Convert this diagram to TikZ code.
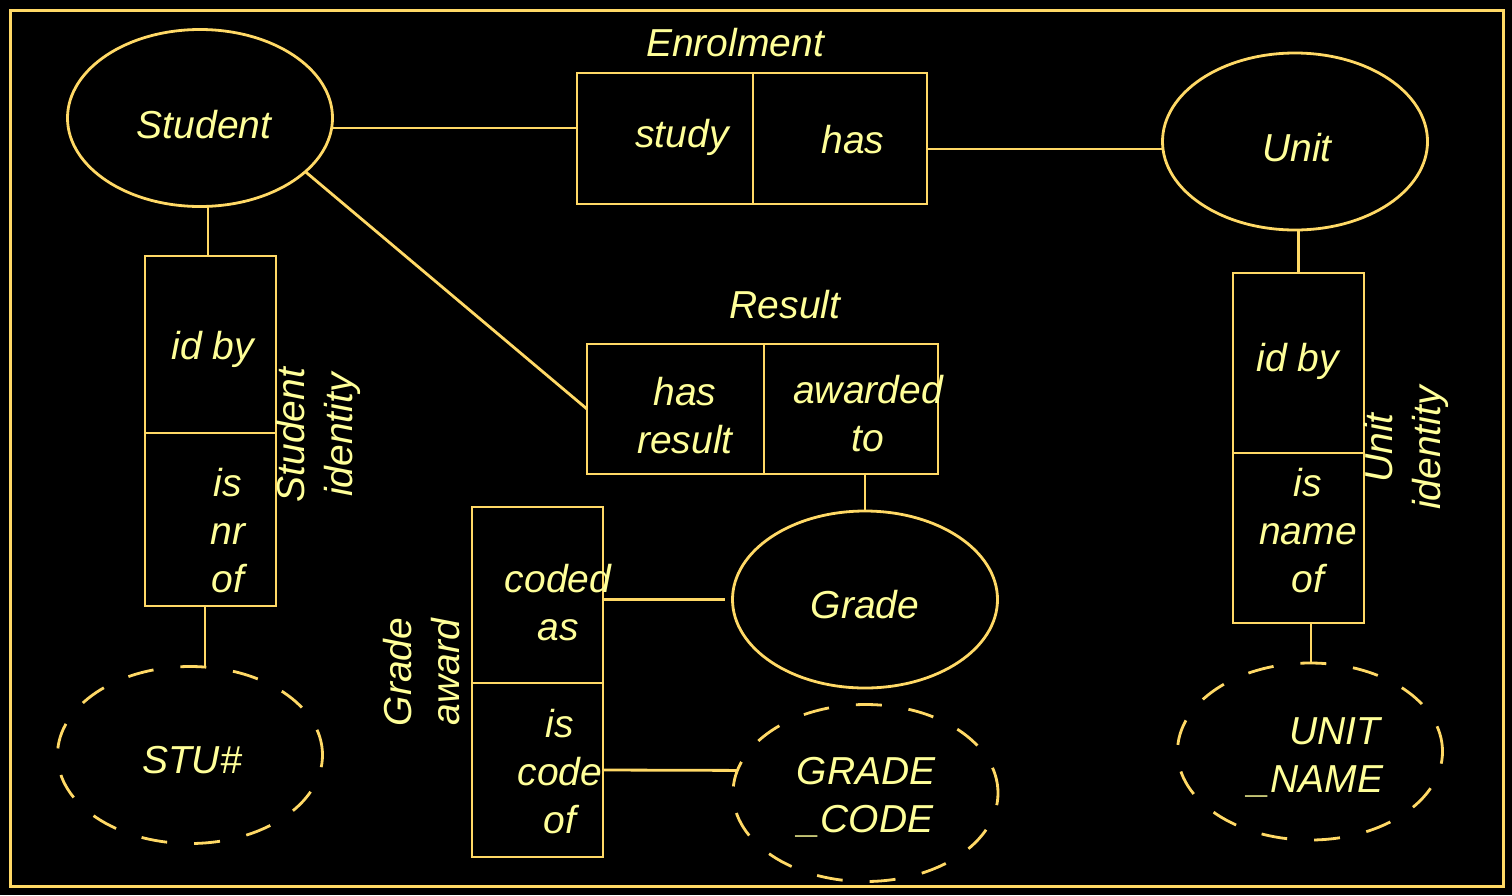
\documentclass[tikz,border=0pt]{standalone}
\usepackage{fontspec}
\setmainfont{Liberation Sans}
\usetikzlibrary{shapes.geometric}
\definecolor{erline}{HTML}{FFD966}
\definecolor{ertext}{HTML}{FFFF99}
\begin{document}
\begin{tikzpicture}[x=1pt,y=-1pt,
  every node/.style={inner sep=0pt, outer sep=0pt},
  ent/.style={ellipse, draw=erline, line width=2.8pt, minimum width=265pt, minimum height=177pt},
  keyent/.style={ent, dash pattern=on 26pt off 27pt},
  cell/.style={rectangle, draw=erline, line width=2.8pt},
  lbl/.style={text=ertext, font=\fontsize{39}{48}\selectfont\itshape, align=center},
  conn/.style={draw=erline, line width=2.8pt}]

% page and frame
\fill[black] (0,0) rectangle (1512,895);
\useasboundingbox (0,0) rectangle (1512,895);
\draw[erline, line width=3pt] (10,10) rectangle (1503,886);

% entities
\node[ent] (student) at (200,118) {};
\node[ent] (unit) at (1295,141.5) {};
\node[ent] (grade) at (865,599.5) {};
\node[keyent] (stu) at (190,755) {};
\node[keyent] (gcode) at (865.5,793) {};
\node[keyent] (uname) at (1310,751.5) {};

% fact types (role boxes)
\node[cell, minimum width=176pt, minimum height=131pt] (enrolA) at (665,138.5) {};
\node[cell, minimum width=174pt, minimum height=131pt] (enrolB) at (840,138.5) {};
\node[cell, minimum width=177pt, minimum height=130pt] (resA) at (675.5,409) {};
\node[cell, minimum width=174pt, minimum height=130pt] (resB) at (851,409) {};
\node[cell, minimum width=131pt, minimum height=177pt] (sidA) at (210.5,344.5) {};
\node[cell, minimum width=131pt, minimum height=173pt] (sidB) at (210.5,519.5) {};
\node[cell, minimum width=131pt, minimum height=176pt] (gaA) at (537.5,595) {};
\node[cell, minimum width=131pt, minimum height=174pt] (gaB) at (537.5,770) {};
\node[cell, minimum width=131pt, minimum height=180pt] (uidA) at (1298.5,363) {};
\node[cell, minimum width=131pt, minimum height=170pt] (uidB) at (1298.5,538) {};

% connectors
\coordinate (e1) at ([yshift=10.5pt]enrolA.west);
\draw[conn] (student.east |- e1) -- (e1);
\coordinate (e2) at ([yshift=-10.5pt]enrolB.east);
\draw[conn] (e2) -- (unit.west |- e2);
\coordinate (s1) at ([xshift=-2.5pt]sidA.north);
\draw[conn] (student.south -| s1) -- (s1);
\coordinate (s2) at ([xshift=-5.5pt]sidB.south);
\draw[conn] (s2) -- (stu.north -| s2);
\draw[conn] (student.-27) -- (resA.west);
\draw[conn] (grade.north) -- (grade.north |- resB.south);
\coordinate (g1) at ([xshift=-8pt]grade.west);
\draw[conn] (gaA.east |- g1) -- (g1);
\draw[conn] (gaB.east) -- (gcode.170);
\draw[conn] (uidA.north) -- (uidA.north |- unit.south);
\coordinate (u2) at ([xshift=12.5pt]uidB.south);
\draw[conn] (u2) -- (uname.north -| u2);

% texts
\node[lbl] (tEnrol) at (735,43) {Enrolment};
\node[lbl] (tStudent) at (204,125) {Student};
\node[lbl] (tStudy) at (682,137) {study};
\node[lbl] (tHas) at (853,140) {has};
\node[lbl] (tUnit) at (1297,148) {Unit};
\node[lbl] (tSidBy) at (213,349) {id by};
\node[lbl] (tNrOf) at (228,530.5) {is\\nr\\of};
\node[lbl, rotate=90] (tStuId) at (318,435) {Student\\identity};
\node[lbl] (tResult) at (785,305) {Result};
\node[lbl] (tHasRes) at (685,416) {has\\result};
\node[lbl] (tAward) at (868,414) {awarded\\to};
\node[lbl] (tGrade) at (865,605) {Grade};
\node[lbl] (tCoded) at (558,603) {coded\\as};
\node[lbl] (tCodeOf) at (560,771.5) {is\\code\\of};
\node[lbl, rotate=90] (tGrAward) at (422,672) {Grade\\award};
\node[lbl] (tGCode) at (866,797.5) {GRADE\\\_CODE};
\node[lbl] (tStu) at (192,760) {STU\#};
\node[lbl] (tUidBy) at (1298,361) {id by};
\node[lbl] (tNameOf) at (1308,530.5) {is\\name\\of};
\node[lbl, rotate=90] (tUnitId) at (1406,448) {Unit\\identity};
\node[lbl] (tUName) at (1316,757.5) {\hspace*{38pt}UNIT\\\_NAME};
\end{tikzpicture}
\end{document}
